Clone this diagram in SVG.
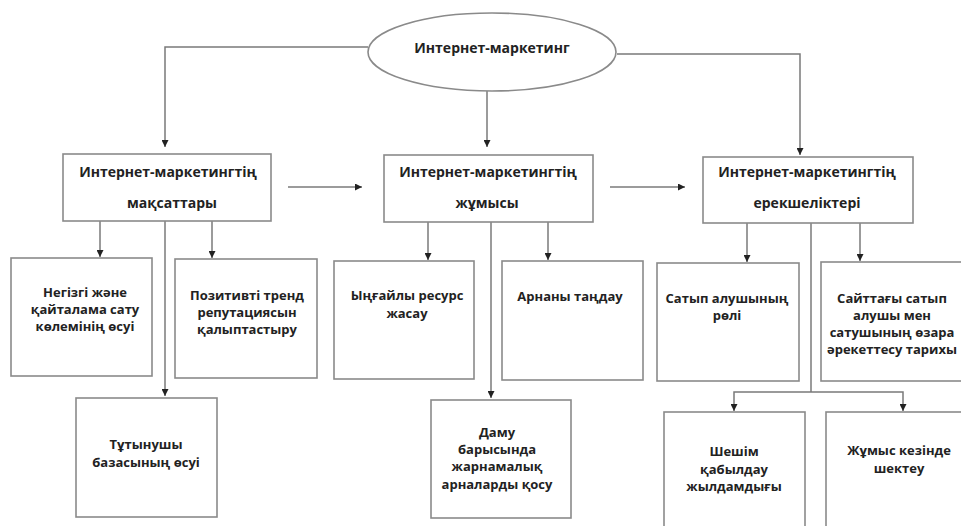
<svg xmlns="http://www.w3.org/2000/svg" width="961" height="526" viewBox="0 0 961 526">
<defs>
<marker id="arr" viewBox="0 0 10 10" refX="10" refY="5" markerWidth="7" markerHeight="7" markerUnits="userSpaceOnUse" orient="auto">
<path d="M0,0 L10,5 L0,10 z" fill="#222"/>
</marker>
<style>
.box{fill:#fff;stroke:#8a8a8a;stroke-width:1.6}
.t{font-family:"Open Sans","DejaVu Sans",sans-serif;font-weight:bold;fill:#222;text-anchor:middle}
.h{font-size:14px}
.b{font-size:13px}
.c{fill:none;stroke:#7a7a7a;stroke-width:1.5}
.a{marker-end:url(#arr)}
</style>
</defs>
<rect width="961" height="526" fill="#fff"/>
<g id="connectors">
<path class="c a" d="M368,47 H165 V147"/>
<path class="c a" d="M617,54 H800 V155"/>
<path class="c a" d="M487,91 V147"/>
<path class="c a" d="M288,187 H362"/>
<path class="c a" d="M610,187 H685"/>
<path class="c a" d="M100,221 V257"/>
<path class="c a" d="M212,221 V258"/>
<path class="c a" d="M165,221 V396"/>
<path class="c a" d="M428,222 V260"/>
<path class="c a" d="M548,222 V260"/>
<path class="c a" d="M491,222 V398"/>
<path class="c a" d="M747,223 V262"/>
<path class="c a" d="M860,223 V261"/>
<path class="c" d="M811,223 V392"/>
<path class="c a" d="M811,392 H734 V411"/>
<path class="c a" d="M811,392 H903 V411"/>
</g>
<g id="root">
<ellipse cx="492" cy="52" rx="124" ry="39" fill="#fff" stroke="#8a8a8a" stroke-width="1.6"/>
<text class="t h" x="492" y="53">Интернет-маркетинг</text>
</g>
<g id="goals">
<rect class="box" x="63" y="154" width="208" height="67"/>
<text class="t h" x="168" y="177">Интернет-маркетингтің</text>
<text class="t h" x="172" y="208">мақсаттары</text>
</g>
<g id="work">
<rect class="box" x="384" y="155" width="209" height="67"/>
<text class="t h" x="488" y="177">Интернет-маркетингтің</text>
<text class="t h" x="487" y="208">жұмысы</text>
</g>
<g id="features">
<rect class="box" x="703" y="157" width="210" height="66"/>
<text class="t h" x="807" y="177">Интернет-маркетингтің</text>
<text class="t h" x="807" y="208">ерекшеліктері</text>
</g>
<g id="sales">
<rect class="box" x="11" y="258" width="141" height="118"/>
<text class="t b" x="85" y="297">Негізгі және</text>
<text class="t b" x="85" y="314">қайталама сату</text>
<text class="t b" x="85" y="331">көлемінің өсуі</text>
</g>
<g id="reputation">
<rect class="box" x="175" y="259" width="142" height="119"/>
<text class="t b" x="247" y="300">Позитивті тренд</text>
<text class="t b" x="247" y="317">репутациясын</text>
<text class="t b" x="247" y="334">қалыптастыру</text>
</g>
<g id="customers">
<rect class="box" x="76" y="398" width="141" height="119"/>
<text class="t b" x="146" y="449">Тұтынушы</text>
<text class="t b" x="146" y="467">базасының өсуі</text>
</g>
<g id="resource">
<rect class="box" x="334" y="261" width="140" height="118"/>
<text class="t b" x="407" y="300">Ыңғайлы ресурс</text>
<text class="t b" x="407" y="318">жасау</text>
</g>
<g id="channel">
<rect class="box" x="502" y="261" width="141" height="119"/>
<text class="t b" x="570" y="301">Арнаны таңдау</text>
</g>
<g id="adchannels">
<rect class="box" x="431" y="400" width="140" height="118"/>
<text class="t b" x="497" y="437">Даму</text>
<text class="t b" x="497" y="454">барысында</text>
<text class="t b" x="497" y="471">жарнамалық</text>
<text class="t b" x="497" y="489">арналарды қосу</text>
</g>
<g id="buyer">
<rect class="box" x="657" y="263" width="142" height="118"/>
<text class="t b" x="727" y="303">Сатып алушының</text>
<text class="t b" x="727" y="320">рөлі</text>
</g>
<g id="history">
<rect class="box" x="821" y="262" width="142" height="119"/>
<text class="t b" x="892" y="303">Сайттағы сатып</text>
<text class="t b" x="892" y="320">алушы мен</text>
<text class="t b" x="892" y="337">сатушының өзара</text>
<text class="t b" x="892" y="354">әрекеттесу тарихы</text>
</g>
<g id="decision">
<rect class="box" x="664" y="412" width="141" height="120"/>
<text class="t b" x="734" y="456">Шешім</text>
<text class="t b" x="734" y="474">қабылдау</text>
<text class="t b" x="734" y="491">жылдамдығы</text>
</g>
<g id="limit">
<rect class="box" x="826" y="412" width="140" height="120"/>
<text class="t b" x="899" y="455">Жұмыс кезінде</text>
<text class="t b" x="899" y="473">шектеу</text>
</g>
</svg>
